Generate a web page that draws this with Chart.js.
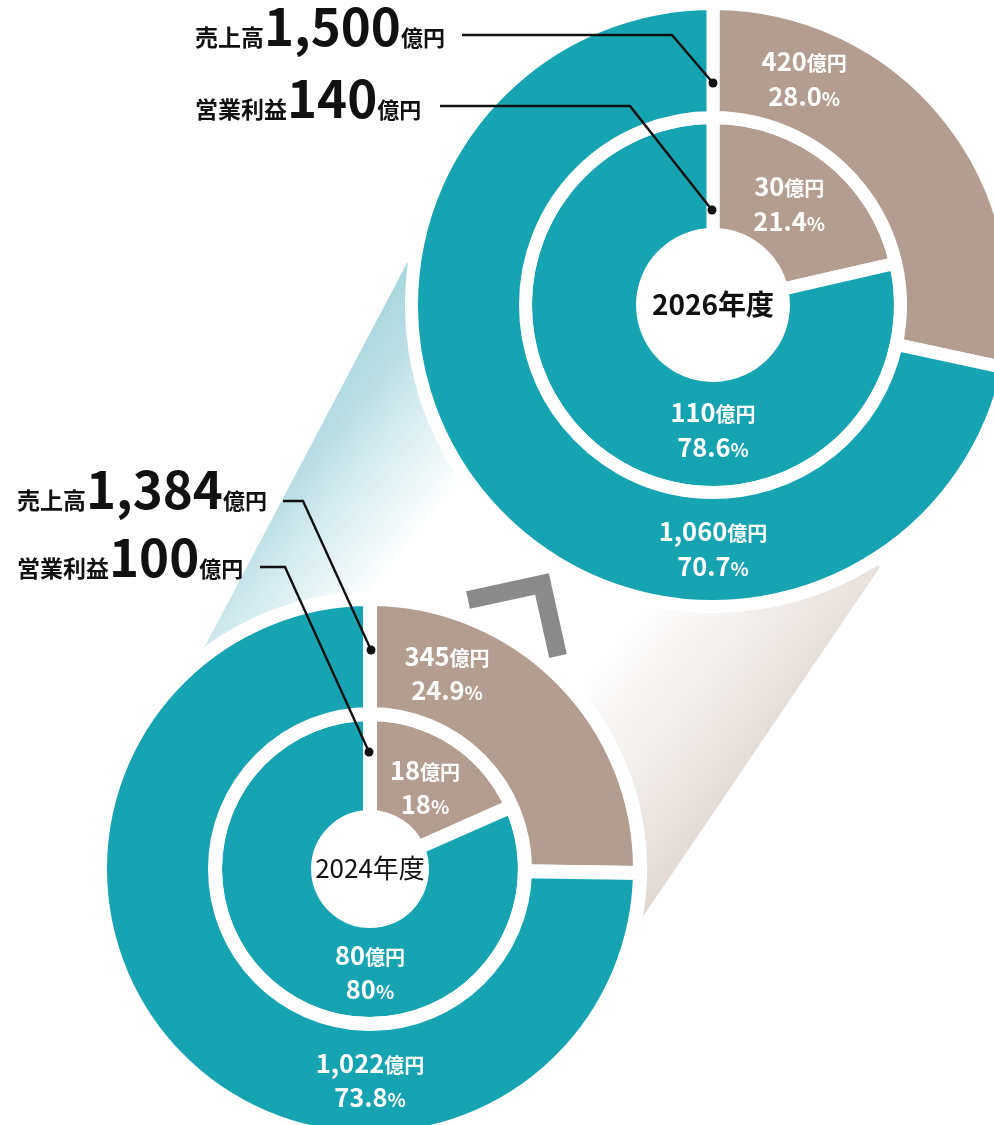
<!DOCTYPE html>
<html lang="ja">
<head>
<meta charset="utf-8">
<title>売上高・営業利益</title>
<script src="https://cdn.jsdelivr.net/npm/chart.js@4.4.1/dist/chart.umd.min.js"></script>
<style>
  html, body { margin: 0; padding: 0; background: #fff; }
  body { width: 994px; height: 1125px; position: relative; overflow: hidden;
         font-family: "Noto Sans CJK JP", "Noto Sans", sans-serif; }
  canvas, svg, .head { position: absolute; }
  #bg { left: 0; top: 0; }
  #chart2026 { left: 405px; top: -3px; }
  #chart2024 { left: 93px; top: 592px; }
  #leaders { left: 0; top: 0; }
  .head { white-space: nowrap; font-weight: 700; color: #111; line-height: 1; }
  .head .k { font-size: 23px; }
  .head .n { font-size: 51px; }
  .head .u { font-size: 22px; }
</style>
</head>
<body>
<canvas id="bg" width="994" height="1125"></canvas>
<canvas id="chart2026" width="616" height="616"></canvas>
<canvas id="chart2024" width="554" height="554"></canvas>
<svg id="leaders" width="994" height="1125">
  <g fill="none" stroke="#111" stroke-width="2.4">
    <polyline points="462,35 672,35 713,83"/>
    <polyline points="440,106 630,106 712,210"/>
    <polyline points="283,501 303,501 371,650"/>
    <polyline points="260,567 285,567 369,752"/>
  </g>
  <g fill="#111">
    <circle cx="713" cy="83" r="4.5"/>
    <circle cx="712" cy="210" r="4.5"/>
    <circle cx="371" cy="650" r="4.5"/>
    <circle cx="369" cy="752" r="4.5"/>
  </g>
</svg>
<div class="head" id="h2026s" style="left:195px;top:-1px"></div>
<div class="head" id="h2026p" style="left:195px;top:71px"></div>
<div class="head" id="h2024s" style="left:17px;top:462px"></div>
<div class="head" id="h2024p" style="left:17px;top:530px"></div>
<script>
/* ================= DATA ================= */
const years = ["2024年度", "2026年度"];
const salesTotal = [1384, 1500];   // 売上高（億円）
const profitTotal = [100, 140];    // 営業利益（億円）

const segments = ["segA", "segB"];

const sales2024 = [345, 1022];
const salesShare2024 = ["24.9", "73.8"];
const profit2024 = [18, 80];
const profitShare2024 = ["18", "80"];

const sales2026 = [420, 1060];
const salesShare2026 = ["28.0", "70.7"];
const profit2026 = [30, 110];
const profitShare2026 = ["21.4", "78.6"];

const segmentColors = ["#b39d90", "#16a3b2"];
const fam = '"Noto Sans CJK JP", "Noto Sans", sans-serif';

const fmt = (v) => v.toLocaleString("en-US");

/* ================= HEADINGS ================= */
function heading(id, kind, value) {
  document.getElementById(id).innerHTML =
    `<span class="k">${kind}</span><span class="n">${fmt(value)}</span><span class="u">億円</span>`;
}
heading("h2026s", "売上高", salesTotal[1]);
heading("h2026p", "営業利益", profitTotal[1]);
heading("h2024s", "売上高", salesTotal[0]);
heading("h2024p", "営業利益", profitTotal[0]);

/* ================= BACKDROP (funnel + arrow) ================= */
const bg = document.getElementById("bg").getContext("2d");
const grad = bg.createLinearGradient(407, 263, 876, 638);
grad.addColorStop(0, "#a8d7de");
grad.addColorStop(0.08, "#b9dee4");
grad.addColorStop(0.15, "#d2eaee");
grad.addColorStop(0.3, "#ffffff");
grad.addColorStop(0.66, "#ffffff");
grad.addColorStop(0.9, "#ebe5e1");
grad.addColorStop(1, "#e0d6d0");
bg.fillStyle = grad;
bg.beginPath();
bg.moveTo(203, 650);
bg.lineTo(407, 263);
bg.lineTo(600, 330);
bg.lineTo(880, 567);
bg.lineTo(642, 918);
bg.lineTo(470, 800);
bg.closePath();
bg.fill();

bg.strokeStyle = "#8a8a8a";
bg.lineWidth = 18;
bg.lineJoin = "miter";
bg.lineCap = "butt";
bg.beginPath();
bg.moveTo(468, 600);
bg.lineTo(542, 584);
bg.lineTo(558, 656);
bg.stroke();

/* ================= LABEL PLUGIN ================= */
function drawRun(ctx, cx, cy, parts, numSize) {
  let total = 0;
  parts.forEach((p) => { ctx.font = p[1]; total += ctx.measureText(p[0]).width; });
  let x = cx - total / 2;
  const base = cy + numSize * 0.365;
  parts.forEach((p) => {
    ctx.font = p[1];
    ctx.fillText(p[0], x, base);
    x += ctx.measureText(p[0]).width;
  });
}

const sliceLabels = {
  id: "sliceLabels",
  afterDatasetsDraw(chart, args, o) {
    const ctx = chart.ctx;
    ctx.save();
    ctx.textAlign = "left";
    ctx.textBaseline = "alphabetic";
    ctx.fillStyle = "#ffffff";
    let cx = 0, cy = 0;
    chart.data.datasets.forEach((ds, di) => {
      chart.getDatasetMeta(di).data.forEach((arc, i) => {
        const s = o.spots[di][i];
        const a = (s.deg - 90) * Math.PI / 180;
        const r = arc.innerRadius + s.r * (arc.outerRadius - arc.innerRadius);
        const x = arc.x + Math.cos(a) * r;
        const y = arc.y + Math.sin(a) * r;
        cx = arc.x; cy = arc.y;
        drawRun(ctx, x, y - o.gap / 2, [[fmt(ds.data[i]), `bold 25.5px ${fam}`], ["億円", `bold 20px ${fam}`]], 25.5);
        drawRun(ctx, x, y + o.gap / 2, [[ds.share[i], `bold 25.5px ${fam}`], ["%", `bold 19px ${fam}`]], 25.5);
      });
    });
    ctx.fillStyle = "#111";
    drawRun(ctx, cx, cy, [[o.center, o.centerFont]], o.centerSize);
    ctx.restore();
  },
};

/* ================= RING CHARTS ================= */
function ringChart(id, year, sales, salesShare, profit, profitShare, geo) {
  const ring = (data, share, weight) => ({
    data, share, weight,
    backgroundColor: segmentColors,
    borderColor: "#ffffff",
    borderWidth: geo.border,
    hoverBorderWidth: geo.border,
    hoverOffset: 0,
    borderJoinStyle: "miter",
  });
  return new Chart(document.getElementById(id), {
    type: "doughnut",
    data: {
      labels: segments,
      datasets: [
        ring(sales, salesShare, geo.outerW),
        ring(profit, profitShare, geo.innerW),
      ],
    },
    options: {
      responsive: false,
      animation: false,
      events: [],
      cutout: geo.cutout,
      layout: { padding: 0 },
      plugins: {
        legend: { display: false },
        tooltip: { enabled: false },
        sliceLabels: {
          spots: geo.spots,
          gap: geo.gap,
          center: year,
          centerFont: geo.centerFont,
          centerSize: geo.centerSize,
        },
      },
    },
    plugins: [sliceLabels],
  });
}

ringChart("chart2026", years[1], sales2026, salesShare2026, profit2026, profitShare2026, {
  border: 13, outerW: 114, innerW: 117, cutout: 70.5, gap: 35,
  spots: [[{ deg: 22, r: 0.49 }, { deg: 180, r: 0.5 }], [{ deg: 37, r: 0.48 }, { deg: 180, r: 0.47 }]],
  centerFont: `bold 28px ${fam}`, centerSize: 28,
});

ringChart("chart2024", years[0], sales2024, salesShare2024, profit2024, profitShare2024, {
  border: 14, outerW: 115, innerW: 103, cutout: 52, gap: 34,
  spots: [[{ deg: 21.5, r: 0.48 }, { deg: 180, r: 0.49 }], [{ deg: 34, r: 0.45 }, { deg: 180, r: 0.5 }]],
  centerFont: `26px ${fam}`, centerSize: 26,
});
</script>
</body>
</html>
